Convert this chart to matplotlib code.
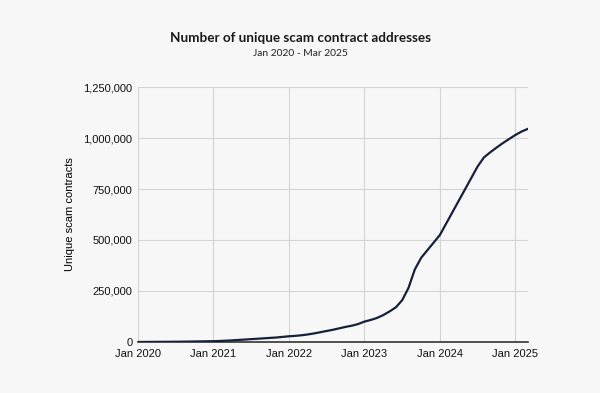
import matplotlib.pyplot as plt

# monthly counts, Jan 2020 .. Mar 2025
counts = [0, 200, 400, 600, 800, 1000, 1300, 1600, 2000, 2500, 3000, 3500,
          4000, 5000, 6500, 8000, 10000, 12000, 14000, 16000, 18000, 20000, 22000, 25000,
          28000, 30000, 33000, 37000, 42000, 48000, 54000, 60000, 67000, 74000, 80000, 88000,
          100000, 108000, 118000, 132000, 150000, 170000, 205000, 265000, 355000, 412000, 450000, 487000,
          525000, 581000, 637000, 693000, 749000, 805000, 861000, 905000, 930000, 953000, 975000, 995000,
          1015000, 1032000, 1045000]
months = list(range(len(counts)))
tick_pos = [0, 12, 24, 36, 48, 60]
tick_labels = ['Jan 2020', 'Jan 2021', 'Jan 2022', 'Jan 2023', 'Jan 2024', 'Jan 2025']
yticks = [0, 250000, 500000, 750000, 1000000, 1250000]

bg = '#f7f7f7'
fig = plt.figure(figsize=(6, 3.93), dpi=100, facecolor=bg)
ax = fig.add_axes([0.23, 0.1298, 0.65, 0.6488], facecolor=bg)

ax.plot(months, counts, color='#17203a', lw=1.6, zorder=3)

ax.set_xlim(0, 62)
ax.set_ylim(0, 1250000)
ax.set_xticks(tick_pos)
ax.set_xticklabels(tick_labels)
ax.set_yticks(yticks)
ax.set_yticklabels(['{:,}'.format(v) for v in yticks])
ax.grid(True, color='#d4d4d4', lw=0.8)
ax.tick_params(length=0, labelsize=8, colors='#111111', pad=4)
for lbl in ax.get_xticklabels() + ax.get_yticklabels():
    lbl.set_family('Liberation Sans')
ax.tick_params(axis='x', pad=5)

for s in ['top', 'right']:
    ax.spines[s].set_visible(False)
ax.spines['left'].set_color('#d4d4d4')
ax.spines['left'].set_linewidth(0.8)
ax.spines['bottom'].set_color('#333333')
ax.spines['bottom'].set_linewidth(1.2)

ax.set_ylabel('Unique scam contracts', fontsize=8, family='Liberation Sans', labelpad=6)

fig.text(0.5, 0.903, 'Number of unique scam contract addresses', ha='center', va='center',
         fontsize=9.7, fontweight='bold', family='Lato', color='#1a1a1a')
fig.text(0.5, 0.865, 'Jan 2020 - Mar 2025', ha='center', va='center',
         fontsize=7.4, family='Lato', color='#222222')

fig.savefig('out.png', dpi=100, facecolor=bg)
